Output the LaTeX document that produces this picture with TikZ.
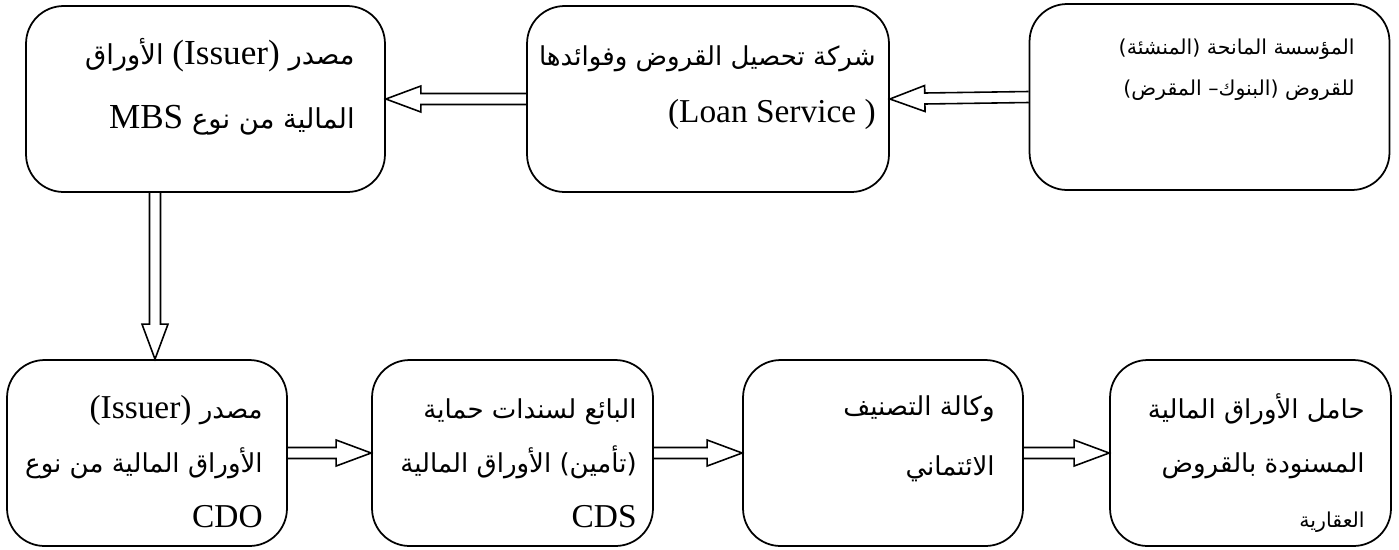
\documentclass[tikz,border=0pt]{standalone}
\usepackage{fontspec}
\setmainfont{Liberation Serif}
\newfontfamily\arabicfont[Script=Arabic,Scale=0.78]{DejaVu Sans}
\TeXXeTstate=1
\usetikzlibrary{calc,positioning}

\newcommand{\ar}[1]{{\arabicfont #1}}
\newcommand{\rl}[1]{\beginR #1\endR}
\newcommand{\lr}[1]{\beginL #1\endL{}}

% hollow block arrow from #1 to #2
\newcommand{\blockarrow}[2]{%
  \coordinate (ba-s) at (#1);
  \coordinate (ba-t) at (#2);
  \coordinate (ba-h) at ($(ba-t)!0.7cm!(ba-s)$);
  \draw[flow] ($(ba-s)!0.11cm!90:(ba-t)$) -- ($(ba-h)!0.11cm!-90:(ba-s)$)
    -- ($(ba-h)!0.26cm!-90:(ba-s)$) -- (ba-t) -- ($(ba-h)!0.26cm!90:(ba-s)$)
    -- ($(ba-h)!0.11cm!90:(ba-s)$) -- ($(ba-s)!0.11cm!-90:(ba-t)$);
}

\begin{document}
\begin{tikzpicture}[x=0.02cm,y=-0.02cm]
\tikzstyle{box}=[draw, line width=1pt, rounded corners=0.75cm, inner sep=0pt, minimum height=3.72cm]
\tikzstyle{txt}=[anchor=base east, align=right, inner sep=0pt, font=\fontsize{19}{32}\selectfont]
\tikzstyle{flow}=[line width=0.9pt, line join=miter]
\useasboundingbox (0,0) rectangle (1399,549);

% top row
\node[box, minimum width=7.18cm] (mbs) at (205.5,99) {};
\node[box, minimum width=7.24cm] (servicer) at (708,99) {};
\node[box, minimum width=7.2cm] (lender) at (1209.5,97) {};
% bottom row
\node[box, minimum width=5.6cm] (cdo) at (147,453) {};
\node[box, minimum width=5.62cm] (cds) at (512.5,453) {};
\node[box, minimum width=5.6cm] (rating) at (883,453) {};
\node[box, minimum width=5.62cm] (holder) at (1250.5,453) {};

% texts (anchored on the last line)
\node[txt, font=\fontsize{20}{36}\selectfont] (mbs-t) at (355,128)
  {\rl{\ar{مصدر} \lr{(Issuer)} \ar{الأوراق}}\\
   \rl{\ar{المالية من نوع} \lr{MBS}}};
\node[txt] (servicer-t) at (876,122)
  {\rl{\ar{شركة تحصيل القروض وفوائدها}}\\
   (Loan Service )};
\node[txt, font=\fontsize{15}{23}\selectfont] (lender-t) at (1355,95)
  {\rl{\ar{المؤسسة المانحة (المنشئة)}}\\
   \rl{\ar{للقروض (البنوك– المقرض)}}};

\node[txt, font=\fontsize{19}{31}\selectfont] (cdo-t) at (263,527)
  {\rl{\ar{مصدر} \lr{(Issuer)}}\\
   \rl{\ar{الأوراق المالية من نوع}}\\
   CDO};
\node[txt, font=\fontsize{19}{31}\selectfont] (cds-t) at (637,527)
  {\rl{\ar{البائع لسندات حماية}}\\
   \rl{\ar{(تأمين) الأوراق المالية}}\\
   CDS};
\node[txt, font=\fontsize{19}{34}\selectfont] (rating-t) at (995,475)
  {\rl{\ar{وكالة التصنيف}}\\
   \rl{\ar{الائتماني}}};
\node[txt, font=\fontsize{19}{31}\selectfont] (holder-t) at (1365,527)
  {\rl{\ar{حامل الأوراق المالية}}\\
   \rl{\ar{المسنودة بالقروض}}\\
   \rl{\ar{\fontsize{15}{15}\selectfont العقارية}}};

\blockarrow{lender.west}{servicer.east}
\blockarrow{servicer.west}{mbs.east}
\blockarrow{[xshift=0.16cm]cdo.north |- mbs.south}{[xshift=0.16cm]cdo.north}
\blockarrow{cdo.east}{cds.west}
\blockarrow{cds.east}{rating.west}
\blockarrow{rating.east}{holder.west}
\end{tikzpicture}
\end{document}
